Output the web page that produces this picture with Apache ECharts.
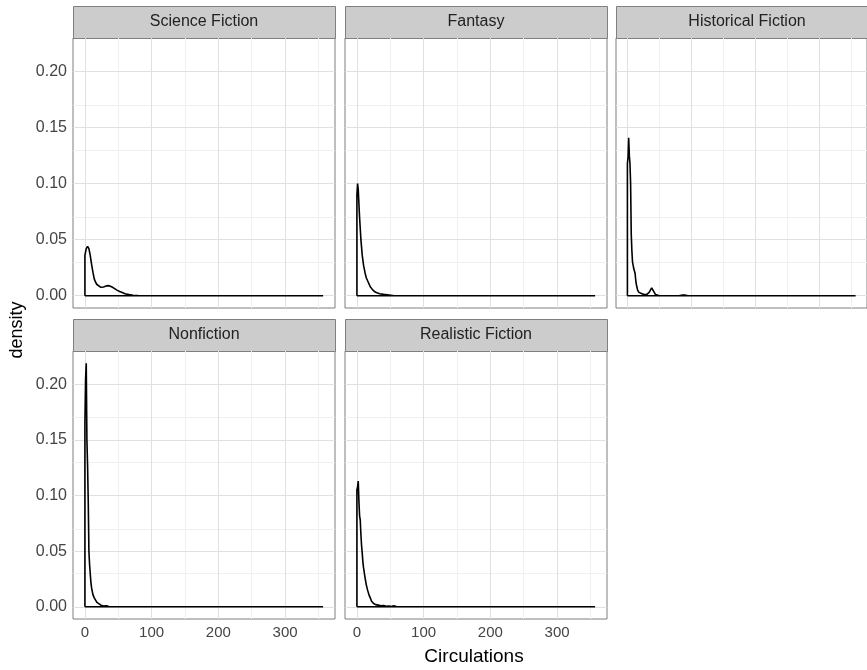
<!DOCTYPE html>
<html>
<head>
<meta charset="UTF-8">
<script src="https://cdn.jsdelivr.net/npm/echarts@6.0.0/dist/echarts.min.js"></script>
<style>
  body { margin: 0; background: #fff; }
  #chart { width: 867px; height: 670px; }
</style>
</head>
<body>
<div id="chart"></div>
<script>
// facet names
const genres = ['Science Fiction', 'Fantasy', 'Historical Fiction', 'Nonfiction', 'Realistic Fiction'];

// density estimates (x = circulations, y = density)
const sfX = [0, 2, 4, 6, 8, 10, 12, 14, 16, 18, 20, 24, 28, 32, 36, 40, 44, 48, 52, 56, 60, 66, 72, 80, 100, 357];
const sfY = [0.036, 0.042, 0.044, 0.042, 0.036, 0.028, 0.021, 0.015, 0.012, 0.010, 0.0085, 0.0075, 0.0078, 0.0088, 0.0090, 0.0080, 0.0065, 0.0050, 0.0038, 0.0028, 0.0018, 0.0010, 0.0004, 0.0001, 0, 0];

const faX = [0, 1, 2, 3, 4, 5, 6, 8, 10, 12, 14, 17, 20, 24, 28, 34, 40, 48, 56, 357];
const faY = [0.090, 0.100, 0.095, 0.082, 0.070, 0.060, 0.050, 0.036, 0.027, 0.021, 0.016, 0.012, 0.008, 0.005, 0.003, 0.0018, 0.0012, 0.0006, 0, 0];

const hfX = [0, 1, 2, 3, 4, 5, 6, 7, 8, 9, 10, 11, 12, 13, 14, 16, 18, 20, 22, 24, 26, 28, 30, 32, 34, 36, 38, 40, 42, 44, 46, 50, 80, 85, 88, 91, 95, 357];
const hfY = [0.118, 0.124, 0.141, 0.125, 0.118, 0.100, 0.055, 0.040, 0.030, 0.027, 0.024, 0.025, 0.020, 0.014, 0.010, 0.005, 0.003, 0.004, 0.002, 0.003, 0.001, 0.002, 0.001, 0.002, 0.003, 0.005, 0.007, 0.006, 0.003, 0.001, 0, 0, 0, 0.0005, 0.0020, 0.0005, 0, 0];

const nfX = [0, 1, 2, 3, 4, 5, 6, 7, 8, 9, 10, 12, 14, 16, 18, 20, 24, 28, 32, 36, 40, 357];
const nfY = [0.165, 0.205, 0.219, 0.150, 0.127, 0.095, 0.050, 0.038, 0.030, 0.022, 0.017, 0.011, 0.008, 0.006, 0.004, 0.003, 0.0015, 0.0008, 0.001, 0.0003, 0, 0];

const rfX = [0, 1, 2, 3, 4, 5, 6, 7, 8, 9, 10, 12, 14, 16, 18, 20, 22, 25, 28, 32, 36, 40, 44, 48, 52, 55, 57, 60, 357];
const rfY = [0.105, 0.108, 0.113, 0.095, 0.082, 0.078, 0.065, 0.055, 0.048, 0.040, 0.035, 0.027, 0.020, 0.015, 0.011, 0.008, 0.005, 0.003, 0.002, 0.0015, 0.001, 0.0012, 0.0005, 0.0008, 0.0003, 0.001, 0.0003, 0, 0];

// axis ticks
const xTicks = [0, 100, 200, 300];
const xMinor = [50, 150, 250, 350];
const yTicks = [0, 0.05, 0.10, 0.15, 0.20];
const yMinor = [0.025, 0.075, 0.125, 0.175, 0.225];

const seriesX = [sfX, faX, hfX, nfX, rfX];
const seriesY = [sfY, faY, hfY, nfY, rfY];

// layout
const colLeft = [73, 345, 616];
const rowTop = [38, 351];
const rowH = [270, 268];
const panelW = 262;
const stripH = 32;

const chart = echarts.init(document.getElementById('chart'));

const grids = [], xAxes = [], yAxes = [], series = [], graphics = [];
const font = 'Liberation Sans, Arial, sans-serif';

genres.forEach(function (g, i) {
  const row = i < 3 ? 0 : 1;
  const col = i % 3;
  const left = colLeft[col], top = rowTop[row];

  grids.push({
    left: left, top: top, width: panelW, height: rowH[row],
    show: true, borderColor: '#7f7f7f', borderWidth: 1, backgroundColor: '#fff'
  });

  xAxes.push({
    type: 'value', gridIndex: i, min: -17.85, max: 374.85,
    axisLine: { show: false },
    splitLine: { show: false },
    axisTick: { show: row === 1, customValues: xTicks, length: 4, lineStyle: { color: '#333' } },
    axisLabel: { show: row === 1, customValues: xTicks, color: '#444', fontSize: 15, fontFamily: font, margin: 6 }
  });

  yAxes.push({
    type: 'value', gridIndex: i, min: -0.01095, max: 0.22995,
    axisLine: { show: false },
    splitLine: { show: false },
    axisTick: { show: col === 0, customValues: yTicks, length: 4, lineStyle: { color: '#333' } },
    axisLabel: {
      show: col === 0, customValues: yTicks, color: '#444', fontSize: 16, fontFamily: font, margin: 6,
      formatter: function (v) { return v.toFixed(2); }
    }
  });

  // closed outline as drawn by geom_density: baseline -> curve -> baseline
  const xs = seriesX[i], ys = seriesY[i];
  const pts = [[xs[0], 0]];
  xs.forEach(function (x, k) { pts.push([x, ys[k]]); });
  pts.push([xs[xs.length - 1], 0]);
  pts.push([xs[0], 0]);

  const gridLines = [];
  xMinor.forEach(function (v) { gridLines.push({ xAxis: v, lineStyle: { color: '#f0f0f0', width: 1 } }); });
  yMinor.forEach(function (v) { gridLines.push({ yAxis: v, lineStyle: { color: '#f0f0f0', width: 1 } }); });
  xTicks.forEach(function (v) { gridLines.push({ xAxis: v, lineStyle: { color: '#e0e0e0', width: 1 } }); });
  yTicks.forEach(function (v) { gridLines.push({ yAxis: v, lineStyle: { color: '#e0e0e0', width: 1 } }); });

  series.push({
    type: 'line', name: g, xAxisIndex: i, yAxisIndex: i,
    data: pts, showSymbol: false, symbol: 'none', z: 5,
    lineStyle: { color: '#000', width: 1.6 },
    animation: false,
    markLine: {
      silent: true, symbol: ['none', 'none'], z: 1, animation: false,
      label: { show: false },
      lineStyle: { type: 'solid' },
      data: gridLines
    }
  });

  // facet strip
  graphics.push({
    type: 'rect', left: left, top: top - stripH,
    shape: { width: panelW, height: stripH },
    style: { fill: '#cccccc', stroke: '#7f7f7f', lineWidth: 1 }
  });
  graphics.push({
    type: 'text', x: left + panelW / 2, y: top - stripH / 2,
    style: { text: g, fill: '#222', font: '16px ' + font, textAlign: 'center', textVerticalAlign: 'middle' }
  });
});

graphics.push({
  type: 'text', x: 474, y: 657,
  style: { text: 'Circulations', fill: '#000', font: '19px ' + font, textAlign: 'center', textVerticalAlign: 'middle' }
});
graphics.push({
  type: 'text', x: 17, y: 330, rotation: Math.PI / 2,
  style: { text: 'density', fill: '#000', font: '18px ' + font, textAlign: 'center', textVerticalAlign: 'middle' }
});

chart.setOption({
  animation: false,
  grid: grids,
  xAxis: xAxes,
  yAxis: yAxes,
  series: series,
  graphic: graphics
});
</script>
</body>
</html>
